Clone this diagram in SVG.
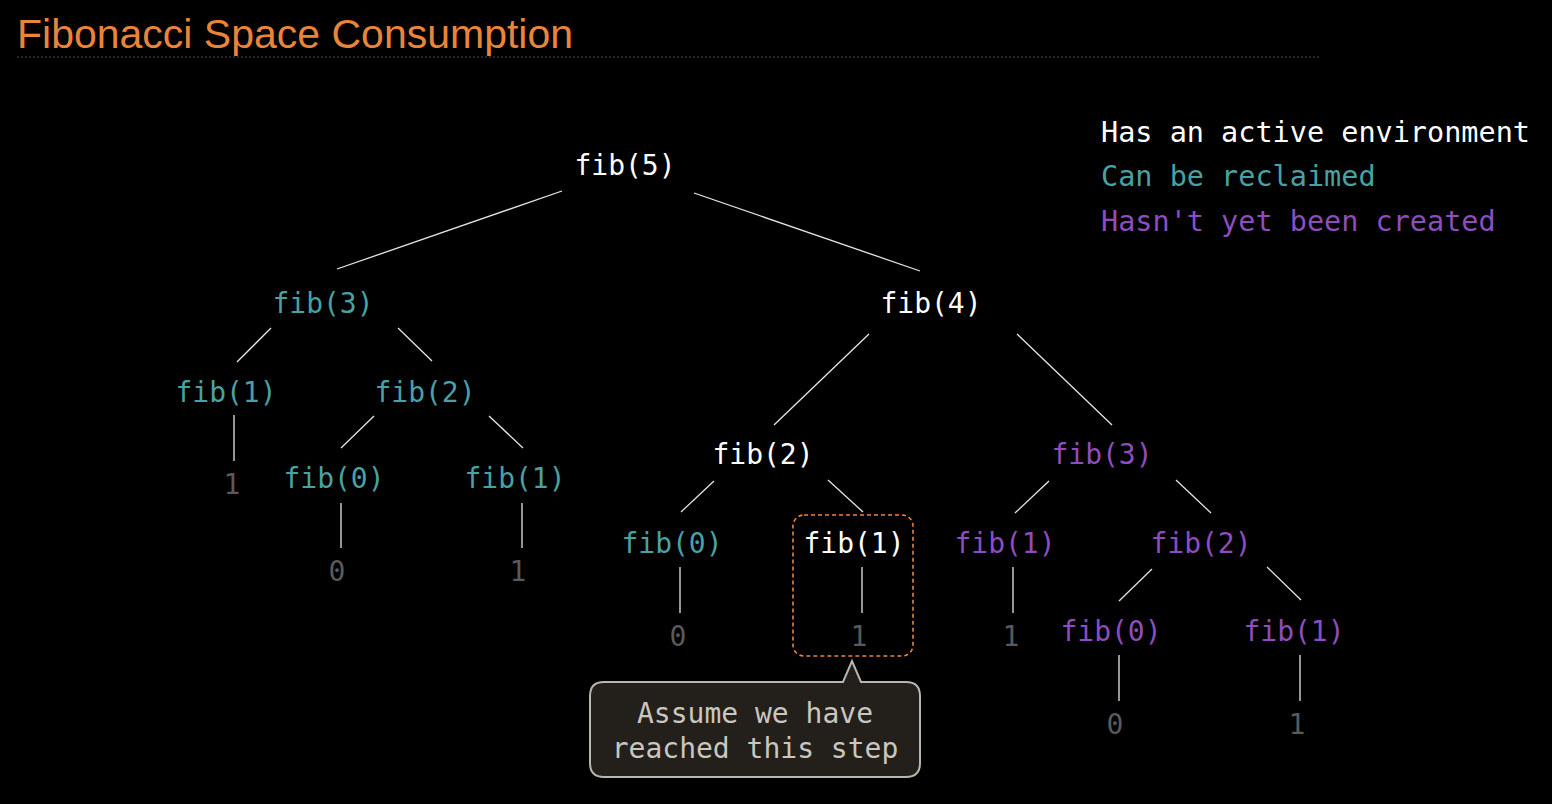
<svg xmlns="http://www.w3.org/2000/svg" width="1552" height="804" viewBox="0 0 1552 804">
<style>
.t{font-family:"DejaVu Sans Mono","Liberation Mono",monospace;font-size:28px;text-anchor:middle}
.w{fill:#ffffff}
.c{fill:#4aa1a3}
.p{fill:#8d4dbf}
.v{fill:#5a5a5a}
.e{stroke:#e6e6e6;stroke-width:1.3;fill:none}
.lg{font-family:"DejaVu Sans Mono","Liberation Mono",monospace;font-size:28.5px}
</style>
<rect width="1552" height="804" fill="#000"/>
<g id="title">
<text x="17" y="48" font-family="'Liberation Sans',Arial,sans-serif" font-size="41" fill="#e8853b">Fibonacci Space Consumption</text>
<line x1="17" y1="57" x2="1320" y2="57" stroke="#4a4a4a" stroke-width="1" stroke-dasharray="2 2"/>
</g>
<g id="legend">
<text class="lg w" x="1101" y="142">Has an active environment</text>
<text class="lg c" x="1101" y="186">Can be reclaimed</text>
<text class="lg p" x="1101" y="231">Hasn't yet been created</text>
</g>
<g id="connectors">
<line class="e" x1="562" y1="191" x2="337" y2="269"/>
<line class="e" x1="694" y1="193" x2="920" y2="271"/>
<line class="e" x1="271" y1="328" x2="237" y2="362"/>
<line class="e" x1="398" y1="328" x2="432" y2="361"/>
<line class="e" x1="234" y1="415" x2="234" y2="461"/>
<line class="e" x1="374" y1="416" x2="341" y2="448"/>
<line class="e" x1="489" y1="416" x2="523" y2="448"/>
<line class="e" x1="341" y1="503" x2="341" y2="548"/>
<line class="e" x1="522" y1="503" x2="522" y2="548"/>
<line class="e" x1="869" y1="334" x2="774" y2="425"/>
<line class="e" x1="1017" y1="334" x2="1112" y2="425"/>
<line class="e" x1="714" y1="481" x2="681" y2="512"/>
<line class="e" x1="828" y1="480" x2="863" y2="512"/>
<line class="e" x1="1049" y1="481" x2="1015" y2="513"/>
<line class="e" x1="1176" y1="480" x2="1211" y2="513"/>
<line class="e" x1="680" y1="567" x2="680" y2="613"/>
<line class="e" x1="862" y1="567" x2="862" y2="613"/>
<line class="e" x1="1013" y1="567" x2="1013" y2="613"/>
<line class="e" x1="1152" y1="569" x2="1119" y2="601"/>
<line class="e" x1="1267" y1="567" x2="1301" y2="600"/>
<line class="e" x1="1119" y1="655" x2="1119" y2="701"/>
<line class="e" x1="1300" y1="655" x2="1300" y2="701"/>
</g>
<g id="fib5"><text class="t w" x="625" y="175">fib(5)</text></g>
<g id="fib3a"><text class="t c" x="323" y="313">fib(3)</text></g>
<g id="fib4"><text class="t w" x="931" y="313">fib(4)</text></g>
<g id="fib1a"><text class="t c" x="226" y="402">fib(1)</text></g>
<g id="fib2a"><text class="t c" x="425" y="402">fib(2)</text></g>
<g id="v1a"><text class="t v" x="232" y="494">1</text></g>
<g id="fib0a"><text class="t c" x="334" y="488">fib(0)</text></g>
<g id="fib1b"><text class="t c" x="515" y="488">fib(1)</text></g>
<g id="v0a"><text class="t v" x="337" y="581">0</text></g>
<g id="v1b"><text class="t v" x="518" y="581">1</text></g>
<g id="fib2b"><text class="t w" x="763" y="464">fib(2)</text></g>
<g id="fib3b"><text class="t p" x="1102" y="464">fib(3)</text></g>
<g id="fib0b"><text class="t c" x="672" y="553">fib(0)</text></g>
<g id="fib1c"><text class="t w" x="854" y="553">fib(1)</text></g>
<g id="fib1d"><text class="t p" x="1005" y="553">fib(1)</text></g>
<g id="fib2c"><text class="t p" x="1201" y="553">fib(2)</text></g>
<g id="v0b"><text class="t v" x="678" y="646">0</text></g>
<g id="v1c"><text class="t v" x="859" y="646">1</text></g>
<g id="v1d"><text class="t v" x="1011" y="646">1</text></g>
<g id="fib0c"><text class="t p" x="1111" y="641">fib(0)</text></g>
<g id="fib1e"><text class="t p" x="1294" y="641">fib(1)</text></g>
<g id="v0c"><text class="t v" x="1115" y="734">0</text></g>
<g id="v1e"><text class="t v" x="1297" y="734">1</text></g>
<g id="highlight">
<rect x="793" y="515" width="120" height="141" rx="11" fill="none" stroke="#e8853b" stroke-width="1.6" stroke-dasharray="4 3"/>
</g>
<g id="callout">
<path d="M604,682 H843 L852,661 L861,682 H906 Q920,682 920,696 V763 Q920,777 906,777 H604 Q590,777 590,763 V696 Q590,682 604,682 Z" fill="#231f1a" stroke="#b9b6b0" stroke-width="2"/>
<text class="t" x="755" y="723" fill="#c9c6c0" font-size="28.3">Assume we have</text>
<text class="t" x="755" y="758" fill="#c9c6c0" font-size="28.3">reached this step</text>
</g>
</svg>
